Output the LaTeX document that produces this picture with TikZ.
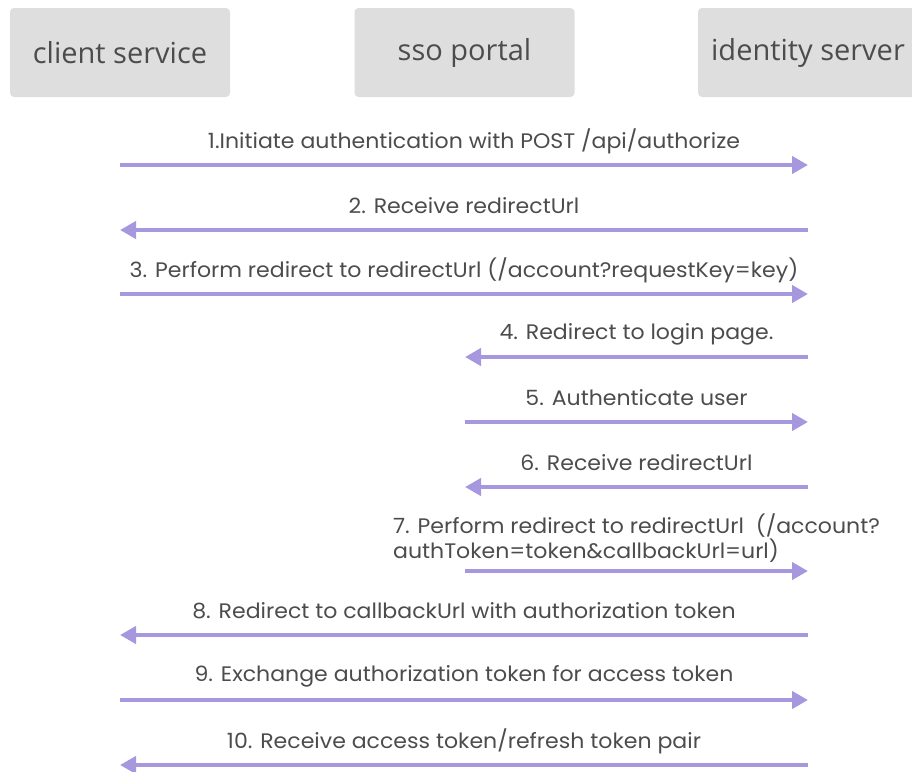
\documentclass[tikz,border=0pt]{standalone}
\usepackage{fontspec}
\setmainfont[FakeStretch=1.05]{Poppins}
\newfontfamily\headfont{Open Sans}
\usepackage{tikz}
\usetikzlibrary{arrows.meta}

\definecolor{msgcolor}{HTML}{A797DE}
\definecolor{boxgray}{HTML}{DEDEDE}
\definecolor{textgray}{HTML}{4C4C4C}

\tikzset{
  actor/.style={fill=boxgray, rounded corners=4pt, minimum width=220pt, minimum height=89pt,
    text=textgray, font=\headfont\fontsize{29}{34}\selectfont},
  msg/.style={draw=msgcolor, line width=4pt, -{Triangle[length=16pt,width=17pt]}},
  lbl/.style={text=textgray, font=\fontsize{21}{23}\selectfont, inner sep=0pt}
}

\begin{document}
\begin{tikzpicture}[x=1pt,y=-1pt]
\useasboundingbox (0,0) rectangle (912,771);

% the three parties
\node[actor] (client) at (120, 52.5) {client service};
\node[actor] (portal) at (464.5, 52.5) {sso portal};
\node[actor] (idsrv) at (808, 52.5) {identity server};

% message ends
\coordinate (c1) at (120, 165);  \coordinate (s1) at (808, 165);
\coordinate (c2) at (120, 230);  \coordinate (s2) at (808, 230);
\coordinate (c3) at (120, 294);  \coordinate (s3) at (808, 294);
\coordinate (p4) at (465, 357);  \coordinate (s4) at (808, 357);
\coordinate (p5) at (465, 422);  \coordinate (s5) at (808, 422);
\coordinate (p6) at (465, 487);  \coordinate (s6) at (808, 487);
\coordinate (p7) at (465, 571);  \coordinate (s7) at (808, 571);
\coordinate (c8) at (120, 635);  \coordinate (s8) at (808, 635);
\coordinate (c9) at (120, 700);  \coordinate (s9) at (808, 700);
\coordinate (c10) at (120, 765); \coordinate (s10) at (808, 765);

\draw[msg] (c1) -- node[lbl, yshift=24pt, xshift=10pt] (l1) {1.Initiate authentication with POST /api/authorize} (s1);
\draw[msg] (s2) -- node[lbl, yshift=24pt] (l2) {2. Receive redirectUrl} (c2);
\draw[msg] (c3) -- node[lbl, yshift=24pt] (l3) {3. Perform redirect to redirectUrl (/account?requestKey=key)} (s3);

\draw[msg] (s4) -- node[lbl, yshift=23pt] (l4) {4. Redirect to login page.} (p4);
\draw[msg] (p5) -- node[lbl, yshift=24pt] (l5) {5. Authenticate user} (s5);
\draw[msg] (s6) -- node[lbl, yshift=24pt] (l6) {6. Receive redirectUrl} (p6);
\draw[msg] (p7) -- node[lbl, yshift=33pt, align=left] (l7)
  {7. Perform redirect to redirectUrl\ \ (/account?\\authToken=token\&callbackUrl=url)} (s7);

\draw[msg] (s8) -- node[lbl, yshift=24pt] (l8) {8. Redirect to callbackUrl with authorization token} (c8);
\draw[msg] (c9) -- node[lbl, yshift=24pt] (l9) {9. Exchange authorization token for access token} (s9);
\draw[msg] (s10) -- node[lbl, yshift=24pt] (l10) {10. Receive access token/refresh token pair} (c10);

\end{tikzpicture}
\end{document}
